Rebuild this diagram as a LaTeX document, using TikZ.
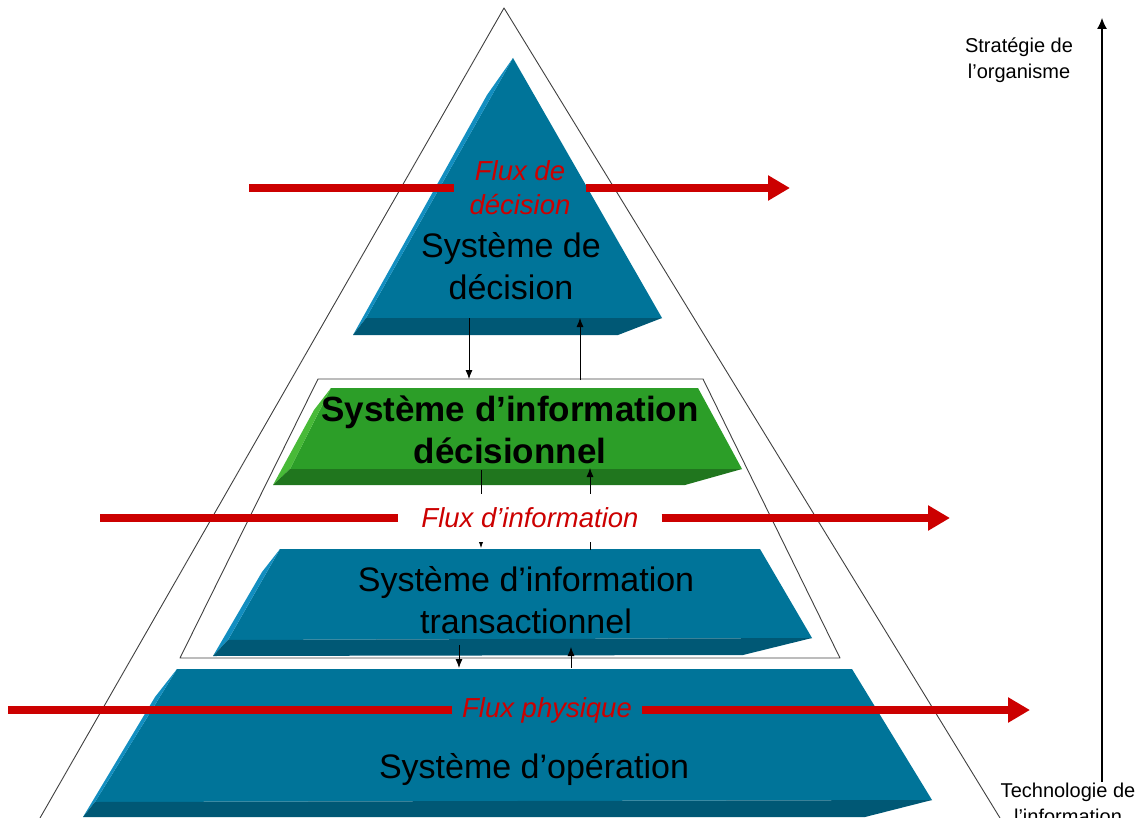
\documentclass[tikz,border=0pt]{standalone}
\usepackage{fontspec}
\setmainfont{Liberation Sans}
\usetikzlibrary{arrows.meta}
\definecolor{sysblue}{RGB}{0,116,153}
\definecolor{sysbluedark}{RGB}{0,88,117}
\definecolor{sysbluelight}{RGB}{18,142,192}
\definecolor{sysgreen}{RGB}{44,158,40}
\definecolor{sysgreendark}{RGB}{32,118,30}
\definecolor{sysgreenlight}{RGB}{72,186,56}
\definecolor{fluxred}{RGB}{204,0,0}
% bloc biseaute : couleur, puis TL, TR, RT, BR, BL, SL, K
\newcommand{\sysbloc}[8]{%
\fill[#1] (#2) -- (#3) -- (#4) -- (#7) -- cycle;
\fill[#1light] (#2) -- (#8) -- (#6) -- (#7) -- cycle;
\fill[#1dark] (#7) -- (#4) -- (#5) -- (#6) -- cycle;
}
\tikzset{
cadre/.style={draw=black!75, line width=0.9pt},
syslabel/.style={align=center, font=\fontsize{34}{42}\selectfont},
fluxtext/.style={align=center, text=fluxred, inner ysep=0pt, font=\itshape\fontsize{27.5}{34}\selectfont},
fluxline/.style={draw=fluxred, line width=8pt},
fluxarrow/.style={fluxline, -{Triangle[length=22pt,width=24pt]}},
sidelabel/.style={align=center, font=\fontsize{20}{26}\selectfont}
}
\begin{document}
\begin{tikzpicture}[x=1pt, y=-1pt, line join=round, >={Latex[length=9pt,width=7pt]}]
\useasboundingbox (0,0) rectangle (1147,818);
% pyramide et cadre
\draw[cadre] (40,818) -- (504,8) -- (1000,818);
\draw[cadre] (318,379) -- (703,379) -- (840,658) -- (180,658) -- cycle;
% blocs
\sysbloc{sysblue}{513,58}{513,58}{662,318}{618,335}{353,335}{366,318}{487,95}
\sysbloc{sysgreen}{331,388}{698,388}{742,469}{685,485}{273,485}{290,469}{314,410}
\sysbloc{sysblue}{280,549}{760,549}{812,638}{743,655}{213,656}{228,640}{262,572}
\sysbloc{sysblue}{177,669}{852,669}{932,800}{865,817}{83,817}{95,802}{155,697}
\node[syslabel] (sd) at (511,266) {Système de\\décision};
\node[syslabel, font=\bfseries\fontsize{35}{42}\selectfont] (sid) at (510,430) {Système d’information\\décisionnel};
\node[syslabel] (sit) at (526,600) {Système d’information\\transactionnel};
\node[syslabel] (so) at (534,770) {Système d’opération};
% liaisons
\coordinate (sd-out) at (469,318); \coordinate (sid-in) at (469,379);
\coordinate (sid-up) at (580,380); \coordinate (sd-in) at (580,318);
\coordinate (sid-out) at (481,470); \coordinate (sit-in) at (481,548);
\coordinate (sit-up) at (590,550); \coordinate (sid-back) at (590,468);
\coordinate (sit-out) at (459,645); \coordinate (so-in) at (459,668);
\coordinate (so-up) at (571,668); \coordinate (sit-back) at (571,647);
\draw[->, line width=0.8pt] (sd-out) -- (sid-in);
\draw[->, line width=0.8pt] (sid-up) -- (sd-in);
\draw[->, line width=0.8pt] (sid-out) -- (sit-in);
\draw[->, line width=0.8pt] (sit-up) -- (sid-back);
\draw[->, line width=0.8pt] (sit-out) -- (so-in);
\draw[->, line width=0.8pt] (so-up) -- (sit-back);
% flux
\node[fluxtext, inner xsep=15pt] (fd) at (520,188) {Flux de\\décision};
\node[fluxtext, fill=white, inner xsep=23pt, inner ysep=14pt] (fi) at (530,518) {Flux d’information};
\node[fluxtext, inner xsep=10pt] (fp) at (547,710) {Flux physique};
\coordinate (fd-l) at (249,188); \coordinate (fd-r) at (790,188);
\coordinate (fi-l) at (100,518); \coordinate (fi-r) at (950,518);
\coordinate (fp-l) at (8,710); \coordinate (fp-r) at (1030,710);
\draw[fluxline] (fd-l) -- (fd.west);
\draw[fluxarrow] (fd.east) -- (fd-r);
\draw[fluxline] (fi-l) -- (fi.west);
\draw[fluxarrow] (fi.east) -- (fi-r);
\draw[fluxline] (fp-l) -- (fp.west);
\draw[fluxarrow] (fp.east) -- (fp-r);
% axe
\node[sidelabel] (strat) at (1019,60) {Stratégie de\\l’organisme};
\node[sidelabel] (techno) at (1068,803) {Technologie de\\l’information};
\coordinate (axe-bas) at (1102,782); \coordinate (axe-haut) at (1102,18);
\draw[line width=1.1pt, -{Latex[length=11pt,width=10pt]}] (axe-bas) -- (axe-haut);
\end{tikzpicture}
\end{document}
